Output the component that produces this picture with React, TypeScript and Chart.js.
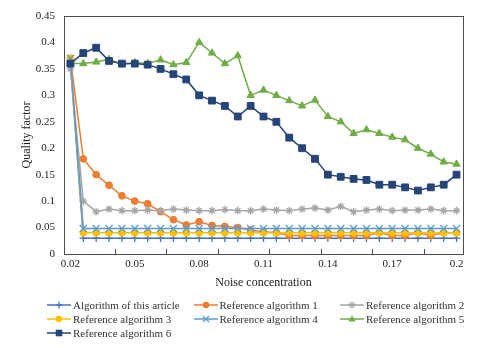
import React, { useEffect, useRef } from "react";
import { Chart, registerables } from "chart.js";

Chart.register(...registerables);

const categories = [
  0.02, 0.026, 0.032, 0.038, 0.044, 0.05, 0.056, 0.062, 0.068, 0.074, 0.08,
  0.086, 0.092, 0.098, 0.104, 0.11, 0.116, 0.122, 0.128, 0.134, 0.14, 0.146,
  0.152, 0.158, 0.164, 0.17, 0.176, 0.182, 0.188, 0.194, 0.2,
];

const algThisArticle = [
  0.36, 0.03, 0.03, 0.03, 0.03, 0.03, 0.03, 0.03, 0.03, 0.03, 0.03, 0.03, 0.03,
  0.03, 0.03, 0.03, 0.03, 0.03, 0.03, 0.03, 0.03, 0.03, 0.03, 0.03, 0.03, 0.03,
  0.03, 0.03, 0.03, 0.03, 0.03,
];
const refAlg1 = [
  0.37, 0.18, 0.15, 0.13, 0.11, 0.1, 0.095, 0.08, 0.065, 0.055, 0.061, 0.054,
  0.052, 0.05, 0.045, 0.042, 0.04, 0.035, 0.035, 0.035, 0.035, 0.035, 0.035,
  0.035, 0.04, 0.035, 0.035, 0.04, 0.035, 0.04, 0.04,
];
const refAlg2 = [
  0.35, 0.1, 0.08, 0.085, 0.082, 0.082, 0.083, 0.082, 0.085, 0.083, 0.082,
  0.082, 0.084, 0.082, 0.082, 0.085, 0.083, 0.082, 0.085, 0.087, 0.083, 0.09,
  0.08, 0.083, 0.085, 0.082, 0.083, 0.083, 0.085, 0.082, 0.082,
];
const refAlg3 = [
  0.37, 0.04, 0.04, 0.04, 0.04, 0.04, 0.04, 0.04, 0.04, 0.04, 0.04, 0.04, 0.04,
  0.04, 0.04, 0.04, 0.04, 0.04, 0.04, 0.04, 0.04, 0.04, 0.04, 0.04, 0.04, 0.04,
  0.04, 0.04, 0.04, 0.04, 0.04,
];
const refAlg4 = [
  0.37, 0.048, 0.048, 0.048, 0.048, 0.048, 0.048, 0.048, 0.048, 0.048, 0.048,
  0.048, 0.048, 0.048, 0.048, 0.048, 0.048, 0.048, 0.048, 0.048, 0.048, 0.048,
  0.048, 0.048, 0.048, 0.048, 0.048, 0.048, 0.048, 0.048, 0.048,
];
const refAlg5 = [
  0.36, 0.36, 0.363, 0.368, 0.358, 0.362, 0.36, 0.367, 0.358, 0.362, 0.4, 0.38,
  0.36, 0.375, 0.3, 0.31, 0.3, 0.29, 0.28, 0.291, 0.26, 0.25, 0.228, 0.235,
  0.228, 0.221, 0.216, 0.2, 0.189, 0.174, 0.17,
];
const refAlg6 = [
  0.36, 0.38, 0.39, 0.365, 0.36, 0.36, 0.358, 0.35, 0.34, 0.33, 0.3, 0.29, 0.28,
  0.26, 0.28, 0.26, 0.25, 0.22, 0.2, 0.18, 0.15, 0.146, 0.142, 0.14, 0.131,
  0.131, 0.126, 0.12, 0.126, 0.131, 0.15,
];

const seriesNames = [
  "Algorithm of this article",
  "Reference algorithm 1",
  "Reference algorithm 2",
  "Reference algorithm 3",
  "Reference algorithm 4",
  "Reference algorithm 5",
  "Reference algorithm 6",
];
const seriesValues = [
  algThisArticle,
  refAlg1,
  refAlg2,
  refAlg3,
  refAlg4,
  refAlg5,
  refAlg6,
];
const seriesColors = [
  "#4472C4",
  "#ED7D31",
  "#A5A5A5",
  "#FFC000",
  "#5B9BD5",
  "#70AD47",
  "#264478",
];
const seriesMarkers = ["cross", "circle", "star", "circle", "crossRot", "triangle", "rect"];
const markerRadius: Record<string, number> = {
  cross: 3.8,
  circle: 3.4,
  star: 3.8,
  crossRot: 5,
  triangle: 4.2,
  rect: 4.8,
};

const FONT = "'Liberation Serif', 'Times New Roman', serif";
const AXIS_COLOR = "#4d4d4d";
const TEXT_COLOR = "#222";

const plotBox = {
  id: "plotBox",
  beforeDatasetsDraw(chart: any) {
    const { ctx, chartArea } = chart;
    ctx.save();
    ctx.strokeStyle = AXIS_COLOR;
    ctx.lineWidth = 1;
    ctx.strokeRect(
      Math.round(chartArea.left) + 0.5,
      Math.round(chartArea.top) + 0.5,
      Math.round(chartArea.right - chartArea.left),
      Math.round(chartArea.bottom - chartArea.top)
    );
    ctx.restore();
  },
};

function LegendMarker({ style, color }: { style: string; color: string }) {
  const c = 12;
  const m = 5;
  let mark: React.ReactNode = null;
  if (style === "cross") {
    mark = (
      <g stroke={color} strokeWidth={1.3}>
        <line x1={c - 3.5} y1={m} x2={c + 3.5} y2={m} />
        <line x1={c} y1={m - 3.5} x2={c} y2={m + 3.5} />
      </g>
    );
  } else if (style === "circle") {
    mark = <circle cx={c} cy={m} r={3.2} fill={color} />;
  } else if (style === "star") {
    mark = (
      <g stroke={color} strokeWidth={1.1}>
        <line x1={c - 3.5} y1={m} x2={c + 3.5} y2={m} />
        <line x1={c} y1={m - 3.5} x2={c} y2={m + 3.5} />
        <line x1={c - 2.6} y1={m - 2.6} x2={c + 2.6} y2={m + 2.6} />
        <line x1={c - 2.6} y1={m + 2.6} x2={c + 2.6} y2={m - 2.6} />
      </g>
    );
  } else if (style === "crossRot") {
    mark = (
      <g stroke={color} strokeWidth={1.3}>
        <line x1={c - 3} y1={m - 3} x2={c + 3} y2={m + 3} />
        <line x1={c - 3} y1={m + 3} x2={c + 3} y2={m - 3} />
      </g>
    );
  } else if (style === "triangle") {
    mark = (
      <polygon
        points={`${c},${m - 3.6} ${c + 3.6},${m + 2.6} ${c - 3.6},${m + 2.6}`}
        fill={color}
      />
    );
  } else if (style === "rect") {
    mark = <rect x={c - 3.3} y={m - 3.3} width={6.6} height={6.6} fill={color} />;
  }
  return (
    <svg width={24} height={10} style={{ display: "block", flex: "none" }}>
      <line x1={0} y1={m} x2={24} y2={m} stroke={color} strokeWidth={1.5} />
      {mark}
    </svg>
  );
}

export default function App() {
  const canvasRef = useRef<HTMLCanvasElement | null>(null);

  useEffect(() => {
    const canvas = canvasRef.current;
    if (!canvas) return;
    Chart.defaults.font.family = FONT;
    const chart = new Chart(canvas, {
      type: "line",
      data: {
        labels: categories.map((v) => String(v)),
        datasets: seriesNames.map((name, idx) => ({
          label: name,
          data: seriesValues[idx],
          borderColor: seriesColors[idx],
          backgroundColor: seriesColors[idx],
          pointBackgroundColor: seriesColors[idx],
          pointBorderColor: seriesColors[idx],
          pointStyle: seriesMarkers[idx] as any,
          pointRadius: markerRadius[seriesMarkers[idx]],
          pointBorderWidth: seriesMarkers[idx].startsWith("cross") || seriesMarkers[idx] === "star" ? 1.3 : 1,
          borderWidth: 1.5,
          tension: 0,
          fill: false,
          order: 6 - idx,
        })),
      },
      options: {
        responsive: false,
        animation: false,
        layout: { padding: { left: 0, right: 17, top: 16, bottom: 54 } },
        plugins: {
          legend: { display: false },
          tooltip: { enabled: false },
        },
        scales: {
          x: {
            type: "category",
            offset: true,
            border: { display: false },
            grid: {
              display: true,
              offset: true,
              drawOnChartArea: false,
              drawTicks: true,
              tickLength: -5,
              color: (ctx: any) =>
                typeof ctx.index === "number" && ctx.index % 4 === 0 ? AXIS_COLOR : "rgba(0,0,0,0)",
            },
            ticks: {
              autoSkip: false,
              maxRotation: 0,
              minRotation: 0,
              padding: 9,
              color: TEXT_COLOR,
              font: { family: FONT, size: 11 },
              callback: (_v: any, i: number) => (i % 5 === 0 ? String(categories[i]) : ""),
            },
            title: {
              display: true,
              text: "Noise concentration",
              color: TEXT_COLOR,
              font: { family: FONT, size: 12 },
              padding: { top: 0, bottom: 4 },
            },
            afterFit: (s: any) => {
              s.height = 40;
            },
          },
          y: {
            min: 0,
            max: 0.45,
            border: { display: false },
            grid: { display: false, drawTicks: false },
            ticks: {
              stepSize: 0.05,
              padding: 9,
              color: TEXT_COLOR,
              font: { family: FONT, size: 11 },
              callback: (v: any) => String(Math.round(Number(v) * 100) / 100),
            },
            title: {
              display: true,
              text: "Quality factor",
              color: TEXT_COLOR,
              font: { family: FONT, size: 12 },
              padding: { top: 20, bottom: 0 },
            },
            afterFit: (s: any) => {
              s.width = 64;
            },
          },
        },
      },
      plugins: [plotBox],
    });
    return () => chart.destroy();
  }, []);

  return (
    <div style={{ position: "absolute", left: 0, top: 0, width: 480, height: 348, background: "#fff" }}>
      <canvas ref={canvasRef} width={480} height={348} style={{ display: "block" }} />
      <div
        style={{
          position: "absolute",
          left: 47,
          top: 298,
          display: "grid",
          gridTemplateColumns: "146.5px 146.5px 146.5px",
          gridAutoRows: "14px",
          fontFamily: FONT,
          fontSize: 11,
          color: "#333",
        }}
      >
        {seriesNames.map((name, idx) => (
          <div key={name} style={{ display: "flex", alignItems: "center", whiteSpace: "nowrap", lineHeight: "14px" }}>
            <LegendMarker style={seriesMarkers[idx]} color={seriesColors[idx]} />
            <span style={{ marginLeft: 2 }}>{name}</span>
          </div>
        ))}
      </div>
    </div>
  );
}
